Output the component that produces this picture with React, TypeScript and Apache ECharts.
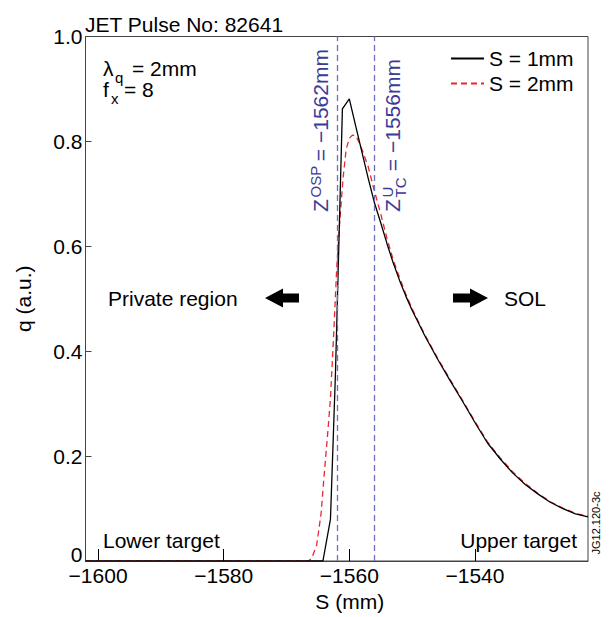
import React, { useEffect, useRef } from "react";
import * as echarts from "echarts";

// S positions (mm) and heat flux q (a.u.) for S = 1mm
const s1 = [-1602, -1564.2, -1563, -1562.2, -1561.1, -1560, -1559, -1558, -1557, -1556, -1555, -1554, -1553, -1552, -1551, -1550, -1548, -1546, -1544, -1542, -1540, -1538, -1536, -1534, -1532, -1530, -1528, -1526, -1524, -1522];
const q1 = [0, 0, 0.08, 0.36, 0.862, 0.881, 0.83, 0.78, 0.73, 0.683, 0.645, 0.605, 0.568, 0.535, 0.505, 0.478, 0.43, 0.386, 0.345, 0.305, 0.264, 0.225, 0.195, 0.168, 0.146, 0.128, 0.112, 0.1, 0.09, 0.084];

// S = 2mm
const s2 = [-1602, -1566.5, -1566, -1565.2, -1564.5, -1564, -1563.5, -1563, -1562.5, -1562, -1561.5, -1561, -1560.5, -1560, -1559.5, -1559, -1558.5, -1558, -1557, -1556, -1555, -1554, -1553, -1552, -1551, -1550, -1548, -1546, -1544, -1542, -1540, -1538, -1536, -1534, -1532, -1530, -1528, -1526, -1524, -1522];
const q2 = [0, 0, 0.005, 0.03, 0.09, 0.165, 0.235, 0.31, 0.43, 0.56, 0.65, 0.73, 0.785, 0.806, 0.812, 0.811, 0.8, 0.785, 0.752, 0.705, 0.662, 0.615, 0.574, 0.54, 0.509, 0.481, 0.432, 0.388, 0.347, 0.307, 0.266, 0.227, 0.197, 0.17, 0.148, 0.129, 0.113, 0.101, 0.091, 0.085];

const seriesNames = ["S = 1mm", "S = 2mm"];
const xTicks = [-1600, -1580, -1560, -1540];
const markerPositions = [-1562, -1556];
const xRange = [-1602, -1522];
const yRange = [0, 1];

const FONT = '"Liberation Sans", Arial, Helvetica, sans-serif';
const LABEL_BLUE = "#3b3b98";

function zip(a: number[], b: number[]) {
  return a.map((v, i) => [v, b[i]]);
}

function txt(text: string, x: number, y: number, size: number, color = "#000", align = "left") {
  return {
    type: "text",
    x,
    y,
    silent: true,
    style: {
      text,
      fontSize: size,
      fontFamily: FONT,
      fill: color,
      align,
      textAlign: align,
      verticalAlign: "middle",
      textVerticalAlign: "middle",
    },
  };
}

export default function App() {
  const ref = useRef<HTMLDivElement>(null);
  useEffect(() => {
    if (!ref.current) return;
    const chart = echarts.init(ref.current, undefined, { renderer: "svg" });
    const option: any = {
      animation: false,
      backgroundColor: "#fff",
      textStyle: { fontFamily: FONT },
      grid: {
        left: 85.5,
        right: 28,
        top: 36.5,
        bottom: 51.5,
        show: true,
        borderColor: "#444",
        borderWidth: 1,
        containLabel: false,
      },
      legend: {
        orient: "vertical",
        left: 450,
        top: 48,
        padding: 0,
        itemWidth: 33,
        itemHeight: 14,
        itemGap: 4,
        itemStyle: { opacity: 0 },
        textStyle: { fontSize: 21, color: "#000", fontFamily: FONT },
        data: seriesNames,
      },
      xAxis: {
        type: "value",
        min: xRange[0],
        max: xRange[1],
        name: "S (mm)",
        nameLocation: "middle",
        nameGap: 30,
        nameTextStyle: { fontSize: 21, color: "#000", fontFamily: FONT, padding: [0, 0, 0, 26] },
        axisLine: { show: true, lineStyle: { color: "#444", width: 1 } },
        axisTick: { show: true, inside: true, length: 12, lineStyle: { color: "#000" }, customValues: xTicks },
        axisLabel: {
          show: true,
          margin: 4,
          fontSize: 21,
          color: "#000",
          fontFamily: FONT,
          customValues: xTicks,
          formatter: (v: number) => String(v).replace("-", "\u2212"),
        },
        splitLine: { show: false },
      },
      yAxis: {
        type: "value",
        min: yRange[0],
        max: yRange[1],
        interval: 0.2,
        name: "q (a.u.)",
        nameLocation: "middle",
        nameGap: 52,
        nameTextStyle: { fontSize: 21, color: "#000", fontFamily: FONT },
        axisLine: { show: true, lineStyle: { color: "#444", width: 1 } },
        axisTick: { show: true, inside: true, length: 6, lineStyle: { color: "#444" } },
        axisLabel: {
          margin: 3,
          fontSize: 21,
          color: "#000",
          fontFamily: FONT,
          formatter: (v: number) => (v === 0 ? "{z|0}" : v.toFixed(1)),
          rich: {
            z: { fontSize: 21, fontFamily: FONT, color: "#000", padding: [0, 0, 14, 0] },
          },
        },
        splitLine: { show: false },
      },
      series: [
        {
          name: seriesNames[0],
          type: "line",
          data: zip(s1, q1),
          symbol: "none",
          showSymbol: false,
          z: 3,
          lineStyle: { color: "#000", width: 1.3 },
          itemStyle: { color: "#000" },
          markLine: {
            silent: true,
            symbol: "none",
            label: { show: false },
            lineStyle: { color: "#6e6ec0", type: [6, 4], width: 1.3 },
            data: markerPositions.map((v) => ({ xAxis: v })),
          },
        },
        {
          name: seriesNames[1],
          type: "line",
          data: zip(s2, q2),
          symbol: "none",
          showSymbol: false,
          z: 2,
          lineStyle: { color: "#e8262e", width: 1.3, type: [6, 4] },
          itemStyle: { color: "#e8262e" },
        },
      ],
      graphic: [
        txt("JET Pulse No: 82641", 85, 24, 21),
        txt("\u03bb", 103, 68, 21),
        txt("q", 115, 77, 15),
        txt("= 2mm", 132, 68, 21),
        txt("f", 103, 89, 21),
        txt("x", 111, 98, 15),
        txt("= 8", 124, 89, 21),
        txt("Private region", 108, 298, 21),
        txt("SOL", 504, 298, 21),
        txt("Lower target", 103, 540, 21),
        txt("Upper target", 577, 540, 21, "#000", "right"),
        {
          type: "polygon",
          silent: true,
          shape: { points: [[265, 298], [283, 288.5], [283, 293.5], [299, 293.5], [299, 302.5], [283, 302.5], [283, 307.5]] },
          style: { fill: "#000" },
        },
        {
          type: "polygon",
          silent: true,
          shape: { points: [[488, 298], [470, 288.5], [470, 293.5], [453, 293.5], [453, 302.5], [470, 302.5], [470, 307.5]] },
          style: { fill: "#000" },
        },
        {
          type: "group",
          x: 320,
          y: 212,
          rotation: Math.PI / 2,
          children: [
            txt("Z", 0, 0, 21, LABEL_BLUE),
            txt("OSP", 14.5, -4.7, 15, LABEL_BLUE),
            txt(" = \u22121562mm", 45, 0, 21, LABEL_BLUE),
          ],
        },
        {
          type: "group",
          x: 392.5,
          y: 212,
          rotation: Math.PI / 2,
          children: [
            txt("Z", 0, 0, 21, LABEL_BLUE),
            txt("U", 14.5, -5.5, 15, LABEL_BLUE),
            txt("TC", 14.5, 7.5, 15, LABEL_BLUE),
            txt(" = \u22121556mm", 35, 0, 21, LABEL_BLUE),
          ],
        },
        {
          type: "group",
          x: 596,
          y: 523,
          rotation: Math.PI / 2,
          children: [
            {
              type: "text",
              x: 0,
              y: 0,
              silent: true,
              style: {
                text: "JG12.120-3c",
                fontSize: 11,
                fontFamily: FONT,
                fill: "#000",
                align: "center",
                textAlign: "center",
                verticalAlign: "middle",
                textVerticalAlign: "middle",
              },
            },
          ],
        },
      ],
    };
    chart.setOption(option);
    return () => chart.dispose();
  }, []);
  return (
    <div
      ref={ref}
      style={{ position: "fixed", left: 0, top: 0, width: 616, height: 617, background: "#fff" }}
    />
  );
}
